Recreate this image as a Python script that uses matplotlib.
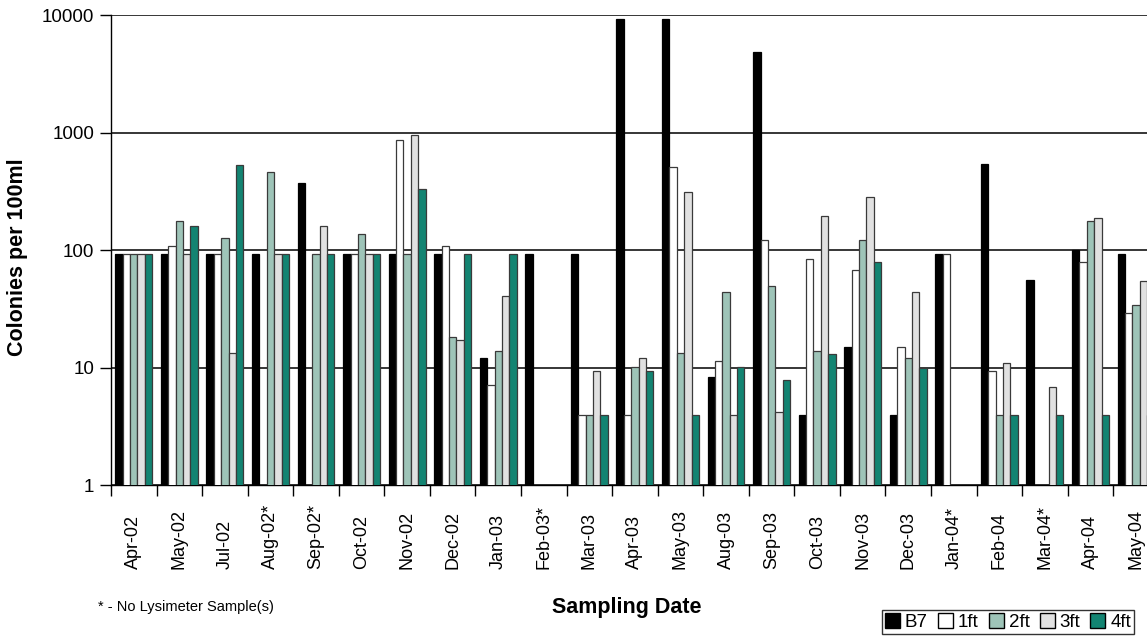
import numpy as np
import matplotlib
matplotlib.use("Agg")
import matplotlib.pyplot as plt
from matplotlib import font_manager
from matplotlib.patches import Patch

nan = np.nan

dates = ["Apr-02", "May-02", "Jul-02", "Aug-02*", "Sep-02*", "Oct-02", "Nov-02",
         "Dec-02", "Jan-03", "Feb-03*", "Mar-03", "Apr-03", "May-03", "Aug-03",
         "Sep-03", "Oct-03", "Nov-03", "Dec-03", "Jan-04*", "Feb-04", "Mar-04*",
         "Apr-04", "May-04"]

b7 = [93, 93, 93, 93, 374, 93, 93, 93, 12, 93, 93, 9300, 9300, 8.4,
      4870, 4, 15, 4, 93, 542, 56, 100, 93]
ft1 = [93, 109, 93, nan, nan, 93, 857, 109, 7.1, nan, 4, 4, 505, 11.4,
       122, 84, 68, 15, 93, 9.3, nan, 80, 29]
ft2 = [93, 178, 128, 464, 93, 136, 93, 18.3, 14, nan, 4, 10.2, 13.4, 44,
       50, 14, 122, 12, nan, 4, nan, 178, 34]
ft3 = [93, 93, 13.4, 93, 159, 93, 952, 17.3, 40.6, nan, 9.3, 12, 315, 4,
       4.2, 195, 282, 44, nan, 10.9, 6.8, 186, 55]
ft4 = [93, 159, 535, 93, 93, 93, 333, 93, 93, nan, 4, 9.3, 4, 10.2,
       7.9, 13.2, 80, 10, nan, 4, 4, 4, 4]

series = ["B7", "1ft", "2ft", "3ft", "4ft"]
colors = ["#000000", "#ffffff", "#9ec4b8", "#e1e1e1", "#138472"]

# narrow sans if available, otherwise regular Liberation Sans
names = {f.name for f in font_manager.fontManager.ttflist}
base_font = "Liberation Sans Narrow" if "Liberation Sans Narrow" in names else "Liberation Sans"
plt.rcParams["font.family"] = [base_font, "DejaVu Sans"]

W, H = 1147, 637
fig = plt.figure(figsize=(W / 100, H / 100), dpi=100)
ax = fig.add_axes([111 / W, 1 - 485.3 / H, 1 - 111 / W, (485.3 - 15) / H])

x = np.arange(len(dates))
width = 0.162
for k, (vals, col) in enumerate(zip([b7, ft1, ft2, ft3, ft4], colors)):
    edge = "#000000" if k == 0 else "#3a3a3a"
    ax.bar(x + (k - 2) * width, vals, width, color=col, edgecolor=edge,
           linewidth=0.9, zorder=3)

ax.set_yscale("log")
ax.set_ylim(1, 10000)
ax.set_xlim(-0.5, 22.24)

ax.set_yticks([1, 10, 100, 1000, 10000])
ax.set_yticklabels(["1", "10", "100", "1000", "10000"], fontsize=13.5)
ax.yaxis.set_minor_locator(matplotlib.ticker.NullLocator())
ax.tick_params(axis="y", direction="out", length=8, width=1, pad=4)
ax.grid(axis="y", color="black", linewidth=1.1, zorder=0)

# category boundaries get the tick marks, labels sit at group centres
ax.set_xticks(x - 0.5, minor=True)
ax.tick_params(axis="x", which="minor", direction="out", length=8, width=1)
ax.set_xticks(x)
ax.set_xticklabels(dates, rotation=90, fontsize=13, va="bottom")
ax.tick_params(axis="x", which="major", length=0, pad=60)

for side in ["top", "right"]:
    ax.spines[side].set_visible(False)
ax.spines["left"].set_linewidth(1)
ax.spines["bottom"].set_linewidth(1)

fig.text(18 / W, 1 - 257 / H, "Colonies per 100ml", rotation=90, ha="center",
         va="center", fontsize=15.5, fontweight="bold")
fig.text(627 / W, 1 - 607 / H, "Sampling Date", ha="center", va="center",
         fontsize=15.5, fontweight="bold")
fig.text(98 / W, 1 - 607 / H, "* - No Lysimeter Sample(s)", ha="left",
         va="center", fontsize=10.5)

handles = [Patch(facecolor=c, edgecolor="#000000", linewidth=1) for c in colors]
leg = fig.legend(handles, series, ncol=5, loc="center",
                 bbox_to_anchor=(1008 / W, 1 - 622 / H), fontsize=13.5,
                 handlelength=0.8, handleheight=0.8, handletextpad=0.25,
                 columnspacing=0.55, borderpad=0.15, frameon=True, fancybox=False)
leg.get_frame().set_edgecolor("black")
leg.get_frame().set_linewidth(1)

fig.savefig("out.png", dpi=100)
